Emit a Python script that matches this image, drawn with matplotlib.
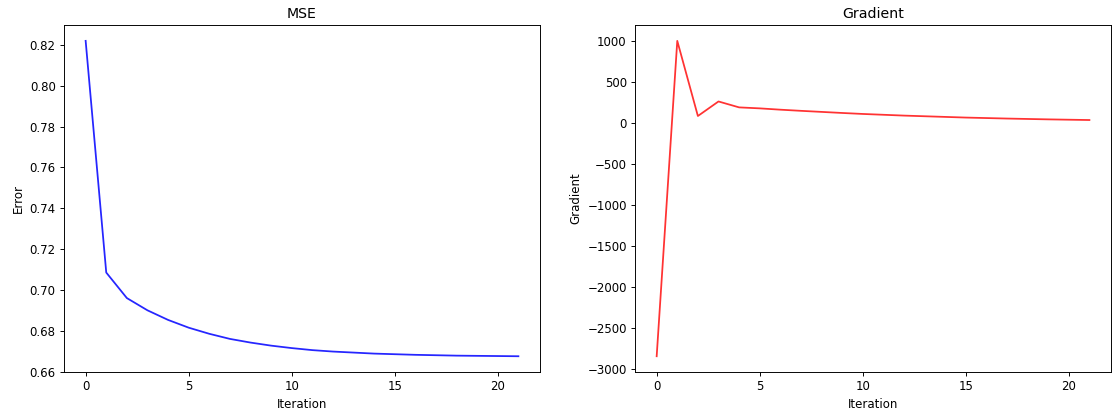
import matplotlib
matplotlib.use("Agg")
import matplotlib.pyplot as plt

iterations = list(range(22))
mse = [0.8220, 0.7085, 0.6960, 0.6900, 0.6853, 0.6815, 0.6785, 0.6760,
       0.6742, 0.6727, 0.6715, 0.6705, 0.6698, 0.6693, 0.6688, 0.6685,
       0.6682, 0.6680, 0.6678, 0.6677, 0.6676, 0.6675]
gradient = [-2840, 1000, 85, 262, 190, 178, 162, 148, 135, 122, 110, 100,
            90, 82, 74, 66, 60, 54, 49, 44, 40, 36]

# rendered a bit smaller than 100 dpi, like the original screenshot
fig = plt.figure(figsize=(1119 / 85, 418 / 85), dpi=85)
ax1 = fig.add_axes([0.0572, 0.110, 0.4254, 0.830])
ax2 = fig.add_axes([0.5675, 0.110, 0.4254, 0.830])

ax1.plot(iterations, mse, color="blue", alpha=0.85)
ax1.set_title("MSE")
ax1.set_xlabel("Iteration")
ax1.set_ylabel("Error")

ax2.plot(iterations, gradient, color="red", alpha=0.8)
ax2.set_title("Gradient")
ax2.set_xlabel("Iteration")
ax2.set_ylabel("Gradient")

fig.savefig("out.png", dpi=85)
